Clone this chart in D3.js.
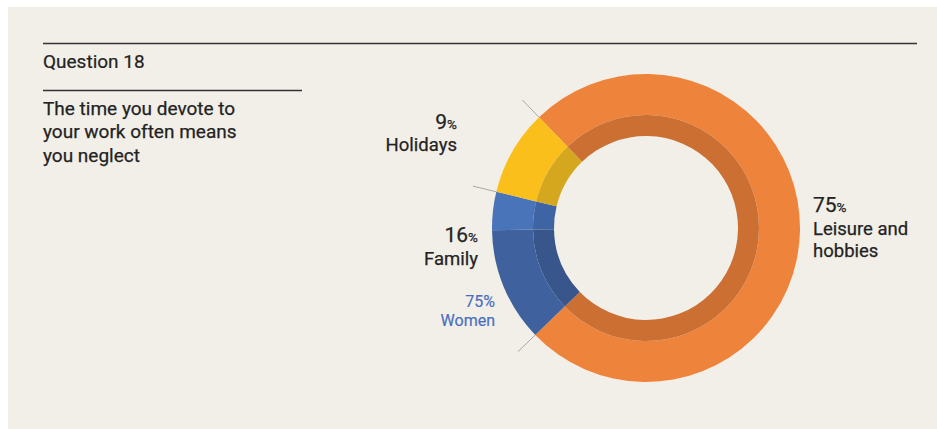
<!DOCTYPE html>
<html>
<head>
<meta charset="utf-8">
<script src="https://cdn.jsdelivr.net/npm/d3@7"></script>
<style>
  body { margin: 0; background: #ffffff; }
  svg { display: block; font-family: Roboto, "Open Sans", sans-serif; }
</style>
</head>
<body>
<div id="chart"></div>
<script>
let w = 937;
let h = 429;

// data
let categories = ["Leisure and hobbies", "Family", "Holidays"];
let shares = [75, 16, 9];
let labelLines = [["Leisure and", "hobbies"], ["Family"], ["Holidays"]];
let womenShare = 75; // % of "Family" answers given by women
let title = "Question 18";
let question = ["The time you devote to", "your work often means", "you neglect"];

let outerColors = ["#ee843b", "#3f619e", "#fbbf1c"];
let innerColors = ["#cb6f33", "#38568c", "#d5a71f"];
let lightBlue = "#4a74b9", lightBlueInner = "#3f64a3";

let cx = 646, cy = 228;
let rOuter = 154, rBand = 113, rInner = 92;

let viz = d3.select("#chart")
  .append("svg")
    .attr("width", w)
    .attr("height", h)
;

viz.append("rect")
    .attr("x", 8)
    .attr("y", 7)
    .attr("width", w - 8)
    .attr("height", h - 7)
    .attr("fill", "#f2efe8")
;

// header rules and text
viz.append("line")
    .attr("x1", 43).attr("x2", 917)
    .attr("y1", 43.5).attr("y2", 43.5)
    .attr("stroke", "#333")
    .attr("stroke-width", 1.6)
;
viz.append("line")
    .attr("x1", 43).attr("x2", 302)
    .attr("y1", 90.5).attr("y2", 90.5)
    .attr("stroke", "#333")
    .attr("stroke-width", 1.6)
;

let ink = "#232323";

viz.append("text")
    .attr("x", 43)
    .attr("y", 68)
    .attr("font-size", 19)
    .attr("fill", ink)
    .attr("stroke", ink)
    .attr("stroke-width", 0.2)
    .text(title)
;

// question block: one text, one tspan per line
let qText = viz.append("text")
    .attr("x", 43)
    .attr("y", 114.5)
    .attr("font-size", 19)
    .attr("fill", ink)
    .attr("stroke", ink)
    .attr("stroke-width", 0.25)
;
qText.selectAll("tspan")
  .data(question)
  .enter()
  .append("tspan")
    .attr("x", 43)
    .attr("dy", (d, i) => i == 0 ? 0 : 23.5)
    .text(d => d)
;

// donut
let startA = -44 * Math.PI / 180;
let pie = d3.pie().sort(null).startAngle(startA).endAngle(startA + 2 * Math.PI);
let arcs = pie(shares);

let outerArc = d3.arc().innerRadius(rBand).outerRadius(rOuter);
let bandArc = d3.arc().innerRadius(rInner).outerRadius(rBand);

let donut = viz.append("g").attr("transform", "translate(" + cx + "," + cy + ")");

// split family slice into women / rest
let pieces = [];
arcs.forEach(function (a, i) {
  if (i == 1) {
    let mid = a.startAngle + (a.endAngle - a.startAngle) * womenShare / 100;
    pieces.push({ startAngle: a.startAngle, endAngle: mid, o: outerColors[1], b: innerColors[1] });
    pieces.push({ startAngle: mid, endAngle: a.endAngle, o: lightBlue, b: lightBlueInner });
  } else {
    pieces.push({ startAngle: a.startAngle, endAngle: a.endAngle, o: outerColors[i], b: innerColors[i] });
  }
});

donut.selectAll(".outer")
  .data(pieces)
  .enter()
  .append("path")
    .attr("d", outerArc)
    .attr("fill", d => d.o)
;
donut.selectAll(".band")
  .data(pieces)
  .enter()
  .append("path")
    .attr("d", bandArc)
    .attr("fill", d => d.b)
;

// leader ticks at slice boundaries
donut.selectAll(".tick")
  .data(arcs)
  .enter()
  .append("line")
    .attr("x1", d => Math.sin(d.startAngle) * rOuter)
    .attr("y1", d => -Math.cos(d.startAngle) * rOuter)
    .attr("x2", d => Math.sin(d.startAngle) * (rOuter + 24))
    .attr("y2", d => -Math.cos(d.startAngle) * (rOuter + 24))
    .attr("stroke", "#a8a8a8")
    .attr("stroke-width", 1)
;

// labels: one text block each (value line + name lines)
let labelPos = [
  { x: 813, y: 212, gap: 23, anchor: "start" },
  { x: 478, y: 242, gap: 23, anchor: "end" },
  { x: 457, y: 129, gap: 22, anchor: "end" }
];

labelPos.forEach(function (p, i) {
  let t = viz.append("text")
      .attr("x", p.x)
      .attr("y", p.y)
      .attr("text-anchor", p.anchor)
      .attr("fill", ink)
      .attr("stroke", ink)
      .attr("stroke-width", 0.25)
      .attr("font-size", 18.5);
  t.append("tspan").attr("font-size", 21).text(shares[i]);
  t.append("tspan").attr("font-size", 13.5).text("%");
  labelLines[i].forEach(function (line, j) {
    t.append("tspan")
        .attr("x", p.x)
        .attr("dy", j == 0 ? p.gap : 21.8)
        .text(line);
  });
});

let wText = viz.append("text")
    .attr("x", 495)
    .attr("y", 307)
    .attr("text-anchor", "end")
    .attr("fill", "#4a6fc0")
    .attr("stroke", "#4a6fc0")
    .attr("stroke-width", 0.2)
    .attr("font-size", 16)
;
wText.append("tspan").text(womenShare + "%");
wText.append("tspan").attr("x", 495).attr("dy", 19).text("Women");
</script>
</body>
</html>
